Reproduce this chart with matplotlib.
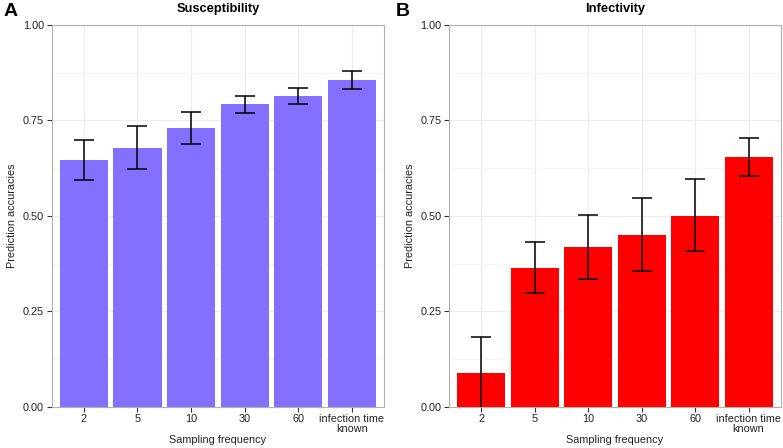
import numpy as np
import matplotlib.pyplot as plt
from matplotlib.ticker import MultipleLocator

plt.rcParams['font.family'] = ['Liberation Sans', 'DejaVu Sans']
plt.rcParams['font.size'] = 8

categories = ['2', '5', '10', '30', '60', 'infection time\nknown']

susc_mean = [0.646, 0.679, 0.730, 0.792, 0.813, 0.855]
susc_lo   = [0.593, 0.623, 0.688, 0.769, 0.794, 0.832]
susc_hi   = [0.700, 0.735, 0.773, 0.815, 0.834, 0.879]

inf_mean = [0.088, 0.363, 0.418, 0.450, 0.500, 0.653]
inf_lo   = [-0.01, 0.298, 0.334, 0.356, 0.407, 0.605]
inf_hi   = [0.183, 0.431, 0.502, 0.546, 0.597, 0.703]

fig = plt.figure(figsize=(7.83, 4.48), dpi=100)
ax1 = fig.add_axes([0.066, 0.0922, 0.4244, 0.852])
ax2 = fig.add_axes([0.5738, 0.0922, 0.4232, 0.852])

panels = [
    (ax1, susc_mean, susc_lo, susc_hi, '#8470FF', 'Susceptibility', 'A'),
    (ax2, inf_mean, inf_lo, inf_hi, '#FF0000', 'Infectivity', 'B'),
]

x = np.arange(1, len(categories) + 1)
for ax, mean, lo, hi, color, title, letter in panels:
    mean = np.array(mean)
    err = [mean - np.array(lo), np.array(hi) - mean]
    ax.bar(x, mean, width=0.9, color=color, edgecolor='none', zorder=2)
    ax.errorbar(x, mean, yerr=err, fmt='none', ecolor='black', elinewidth=1.1,
                capsize=7, capthick=1.1, zorder=3)
    ax.set_xlim(0.4, 6.6)
    ax.set_ylim(0, 1)
    ax.set_xticks(x)
    ax.set_xticklabels(categories, linespacing=0.9)
    ax.set_yticks([0, 0.25, 0.5, 0.75, 1.0])
    ax.set_yticklabels(['0.00', '0.25', '0.50', '0.75', '1.00'])
    ax.yaxis.set_minor_locator(MultipleLocator(0.125))
    ax.grid(which='major', color='#ebebeb', lw=0.8, zorder=0)
    ax.grid(which='minor', axis='y', color='#f5f5f5', lw=0.6, zorder=0)
    ax.set_axisbelow(True)
    for s in ax.spines.values():
        s.set_color('#b0b0b0')
        s.set_linewidth(0.8)
    ax.tick_params(which='major', length=3.5, width=0.8, color='#333333',
                   labelsize=7.8, labelcolor='#222222', pad=2)
    ax.tick_params(which='minor', length=0)
    ax.set_xlabel('Sampling frequency', fontsize=7.8, color='#222222', labelpad=1)
    ax.set_ylabel('Prediction accuracies', fontsize=7.8, color='#222222', labelpad=4)
    ax.set_title(title, fontsize=9.3, fontweight='bold', pad=9)

fig.text(0.004, 0.993, 'A', fontsize=14, fontweight='bold', va='top', ha='left')
fig.text(0.506, 0.993, 'B', fontsize=14, fontweight='bold', va='top', ha='left')

plt.savefig('out.png', dpi=100)
